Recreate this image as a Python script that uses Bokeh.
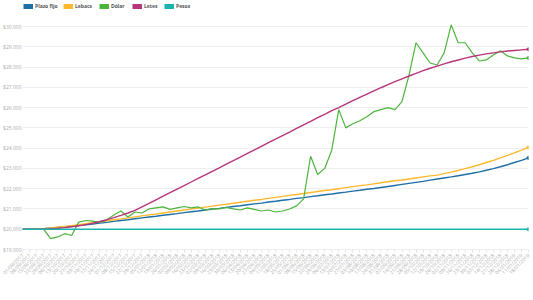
import pandas as pd
from bokeh.plotting import figure
from bokeh.layouts import column
from bokeh.models import Range1d, Legend, LegendItem, FixedTicker
from bokeh.embed import file_html
from bokeh.resources import INLINE
from math import pi

dates = list(pd.date_range("2017-09-01", periods=73, freq="7D").strftime("%d/%m/%Y"))

plazo_fijo = [20000, 20000, 20010, 20030, 20060, 20090, 20120, 20150, 20180, 20220, 20260, 20300,
              20340, 20390, 20430, 20470, 20520, 20560, 20600, 20640, 20690, 20730, 20770, 20820,
              20860, 20900, 20950, 20990, 21030, 21080, 21120, 21160, 21210, 21250, 21290, 21340,
              21380, 21430, 21470, 21520, 21560, 21610, 21650, 21700, 21740, 21790, 21830, 21880,
              21920, 21970, 22010, 22060, 22110, 22160, 22210, 22260, 22310, 22360, 22420, 22480,
              22530, 22580, 22640, 22700, 22760, 22830, 22910, 22990, 23080, 23180, 23290, 23400, 23520]

lebacs = [20000, 20000, 20010, 20030, 20060, 20100, 20140, 20180, 20220, 20270, 20320, 20370,
          20420, 20470, 20510, 20560, 20610, 20660, 20710, 20750, 20800, 20850, 20900, 20950,
          20990, 21040, 21090, 21140, 21190, 21230, 21280, 21330, 21380, 21430, 21470, 21520,
          21570, 21620, 21670, 21710, 21760, 21810, 21860, 21910, 21950, 22000, 22050, 22100,
          22150, 22190, 22240, 22290, 22340, 22390, 22430, 22480, 22530, 22580, 22630, 22670,
          22740, 22820, 22900, 22990, 23080, 23180, 23290, 23400, 23520, 23640, 23770, 23900, 24040]

dolar = [20000, 20000, 20000, 20000, 19540, 19620, 19780, 19690, 20350, 20430, 20400, 20330,
         20450, 20700, 20900, 20600, 20850, 20800, 21000, 21050, 21100, 20980, 21050, 21120,
         21050, 21100, 20950, 21020, 21000, 21080, 21000, 20950, 21050, 20980, 20900, 20950,
         20850, 20900, 21000, 21150, 21500, 23600, 22700, 23000, 23900, 25900, 25000, 25200,
         25350, 25550, 25800, 25900, 26000, 25900, 26300, 27600, 29200, 28700, 28200, 28100,
         28700, 30080, 29200, 29200, 28700, 28300, 28350, 28600, 28800, 28550, 28450, 28400, 28450]

letes = [20000, 20000, 20005, 20015, 20030, 20050, 20080, 20120, 20170, 20230, 20300, 20380,
         20470, 20570, 20680, 20800, 20930, 21100, 21270, 21450, 21630, 21800, 21980, 22150,
         22330, 22510, 22680, 22860, 23030, 23210, 23390, 23560, 23740, 23910, 24090, 24270,
         24440, 24620, 24790, 24970, 25150, 25320, 25500, 25670, 25850, 26000, 26170, 26340,
         26500, 26660, 26820, 26980, 27130, 27280, 27420, 27560, 27690, 27820, 27940, 28050,
         28160, 28260, 28350, 28440, 28520, 28590, 28650, 28700, 28750, 28790, 28820, 28850, 28880]

pesos = [20000] * 73

y_ticks = [19000, 20000, 21000, 22000, 23000, 24000, 25000, 26000, 27000, 28000, 29000, 30000]
y_labels = ["$19.000", "$20.000", "$21.000", "$22.000", "$23.000", "$24.000", "$25.000",
            "$26.000", "$27.000", "$28.000", "$29.000", "$30.000"]

series_names = ["Plazo fijo", "Lebacs", "Dólar", "Letes", "Pesos"]
series_vals = [plazo_fijo, lebacs, dolar, letes, pesos]
colors = ["#1f6ea6", "#fdb92e", "#4cb43c", "#b5367a", "#1ab3b0"]
legend_x = [1, 41, 77, 110, 142]   # screen offsets of the legend entries

x = list(range(len(dates)))

# ---- legend strip ----
lf = figure(width=533, height=20, output_backend="svg", toolbar_location=None,
            x_range=Range1d(0, 1), y_range=Range1d(0, 1),
            x_axis_location=None, y_axis_location=None,
            min_border=0, min_border_left=0, min_border_right=0, min_border_top=0, min_border_bottom=0)
lf.grid.visible = False
lf.outline_line_color = None
lf.border_fill_color = "white"

# ---- main chart ----
p = figure(width=533, height=280, output_backend="svg", toolbar_location=None,
           x_range=Range1d(0, len(dates) - 1), y_range=Range1d(19000, 30297),
           min_border_left=0, min_border_right=5, min_border_bottom=51, min_border_top=0)
p.outline_line_color = None
p.background_fill_color = "white"
p.border_fill_color = "white"

for name, vals, c, lx in zip(series_names, series_vals, colors, legend_x):
    lw = 1.2 if name == "Dólar" else 1.4
    p.line(x, vals, line_color=c, line_width=lw)
    p.scatter([x[-1]], [vals[-1]], size=3, color=c)
    # swatch renderer: same data, out of the legend strip's view
    sw = lf.line(x, vals, line_color=c, line_width=5)
    lg = Legend(items=[LegendItem(label=name, renderers=[sw])], orientation="horizontal",
                location=(lx, 11),
                label_text_font="Open Sans", label_text_font_size="5px",
                label_text_font_style="bold", label_text_color="#555555",
                glyph_width=10, glyph_height=6, label_standoff=2, spacing=0,
                padding=2, margin=0, border_line_color=None, background_fill_alpha=0,
                label_height=6, label_width=10)
    lf.add_layout(lg)

p.yaxis.ticker = FixedTicker(ticks=y_ticks)
p.yaxis.major_label_overrides = {t: l for t, l in zip(y_ticks, y_labels)}
p.yaxis.axis_line_color = None
p.yaxis.major_tick_line_color = None
p.yaxis.minor_tick_line_color = None
p.yaxis.major_tick_in = 0
p.yaxis.major_tick_out = 0
p.yaxis.major_label_text_font = "Open Sans"
p.yaxis.major_label_text_font_size = "5px"
p.yaxis.major_label_text_color = "#aaaaaa"
p.yaxis.major_label_standoff = 1

p.xaxis.ticker = FixedTicker(ticks=x)
p.xaxis.major_label_overrides = {i: d for i, d in zip(x, dates)}
p.xaxis.major_label_orientation = pi / 4
p.xaxis.axis_line_color = "#eeeeee"
p.xaxis.major_tick_line_color = "#e6e6e6"
p.xaxis.major_tick_in = 0
p.xaxis.major_tick_out = 3
p.xaxis.minor_tick_line_color = None
p.xaxis.major_label_text_font = "Open Sans"
p.xaxis.major_label_text_font_size = "5px"
p.xaxis.major_label_text_color = "#aaaaaa"
p.xaxis.major_label_standoff = 2

p.xgrid.grid_line_color = None
p.ygrid.grid_line_color = "#eeeeee"
p.ygrid.ticker = FixedTicker(ticks=y_ticks)

layout = column(lf, p, spacing=0)
open("out.html", "w").write(file_html(layout, INLINE))
